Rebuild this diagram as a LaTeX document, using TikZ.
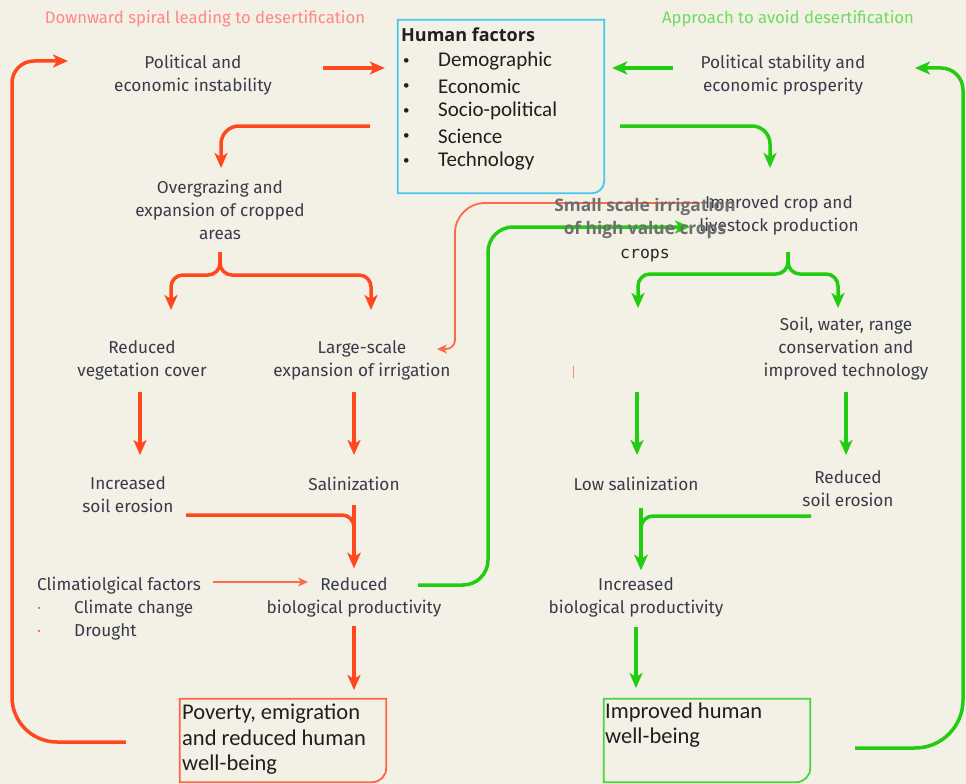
\documentclass[tikz,border=0pt]{standalone}
\usepackage{fontspec}
\setmainfont{Fira Sans}
\newfontfamily\boxfont{Carlito}
\newfontfamily\overfont{Open Sans}
\newfontfamily\cropsfont{DejaVu Sans Mono}
\usetikzlibrary{arrows.meta}

\definecolor{paper}{RGB}{243,240,229}
\definecolor{ink}{RGB}{58,59,74}
\definecolor{spiral}{RGB}{255,72,30}
\definecolor{spiralthin}{RGB}{255,105,75}
\definecolor{spiralbox}{RGB}{255,100,70}
\definecolor{avoid}{RGB}{34,204,17}
\definecolor{avoidbox}{RGB}{70,215,60}
\definecolor{hfcyan}{RGB}{70,200,240}
\definecolor{spiraltitle}{RGB}{255,135,135}
\definecolor{avoidtitle}{RGB}{110,220,95}
\definecolor{overgray}{RGB}{110,110,110}

\tikzset{
  lbl/.style={align=center, inner sep=0pt, text=ink, font=\fontsize{17.2}{23}\selectfont},
  title/.style={inner sep=0pt, font=\fontsize{16.7}{20}\selectfont},
  boxtxt/.style={align=left, inner sep=0pt, anchor=west, text=black!88, font=\boxfont\fontsize{22.5}{25.5}\selectfont},
  hftxt/.style={inner sep=0pt, anchor=west, text=black!88, font=\boxfont\fontsize{21}{25}\selectfont},
  area/.style={inner sep=0pt, minimum width=206pt},
  redarrow/.style={draw=spiral, line width=3.5pt, rounded corners=14pt, -{Stealth[length=15pt,width=13pt,inset=4pt]}},
  greenarrow/.style={draw=avoid, line width=3.5pt, rounded corners=14pt, -{Stealth[length=15pt,width=13pt,inset=4pt]}},
  thinarrow/.style={draw=spiralthin, line width=1.8pt, rounded corners=30pt, -{Stealth[length=10pt,width=9pt,inset=3pt]}}
}

\begin{document}
\begin{tikzpicture}[x=1pt, y=-1pt]
  \fill[paper] (0,0) rectangle (966,784);
  \useasboundingbox (0,0) rectangle (966,784);

  % titles
  \node[title, text=spiraltitle] (downttl) at (205,19) {Downward spiral leading to desertification};
  \node[title, text=avoidtitle] (avoidttl) at (788,19) {Approach to avoid desertification};

  % human factors box
  \node[area, minimum height=173pt] (human) at (501,106.5) {};
  \draw[hfcyan, line width=1.8pt] (human.north west) -- (human.north east) [rounded corners=12pt] -- (human.south east) [sharp corners] -- (human.south west) -- cycle;
  \node[hftxt, font=\overfont\bfseries\fontsize{18}{25}\selectfont] (hftitle) at (401,35) {Human factors};
  \node[hftxt, font=\boxfont\fontsize{13}{25}\selectfont] (hb1) at (403,62) {•};
  \node[hftxt, font=\boxfont\fontsize{13}{25}\selectfont] (hb2) at (403,87) {•};
  \node[hftxt, font=\boxfont\fontsize{13}{25}\selectfont] (hb3) at (403,112) {•};
  \node[hftxt, font=\boxfont\fontsize{13}{25}\selectfont] (hb4) at (403,137) {•};
  \node[hftxt, font=\boxfont\fontsize{13}{25}\selectfont] (hb5) at (403,162) {•};
  \node[hftxt] (hf1) at (438,61) {Demographic};
  \node[hftxt] (hf2) at (438,86) {Economic};
  \node[hftxt] (hf3) at (438,111) {Socio-political};
  \node[hftxt] (hf4) at (438,136) {Science};
  \node[hftxt] (hf5) at (438,161) {Technology};

  % left column labels
  \node[lbl] (polinst) at (193,75) {Political and\\economic instability};
  \node[lbl] (overgraz) at (220,210) {Overgrazing and\\expansion of cropped\\areas};
  \node[lbl] (redveg) at (142,360) {Reduced\\vegetation cover};
  \node[lbl] (largescale) at (362,360) {Large-scale\\expansion of irrigation};
  \node[lbl] (incerosion) at (128,495) {Increased\\soil erosion};
  \node[lbl] (salin) at (354,484) {Salinization};
  \node[lbl] (climat) at (119,586) {Climatiolgical factors};
  \node[lbl, text=spiral, font=\fontsize{9}{10}\selectfont] (cb1) at (39,609) {•};
  \node[lbl, text=spiral, font=\fontsize{9}{10}\selectfont] (cb2) at (39,632) {•};
  \node[lbl, anchor=west] (ci1) at (74,609) {Climate change};
  \node[lbl, anchor=west] (ci2) at (74,632) {Drought};
  \node[lbl] (redbio) at (354,597) {Reduced\\biological productivity};

  % right column labels
  \node[lbl] (polstab) at (783,75) {Political stability and\\economic prosperity};
  \node[lbl] (impcrop) at (779,215) {Improved crop and\\livestock production};
  \coordinate (smallgap) at (637,360);
  \node[lbl] (soilcons) at (846,349) {Soil, water, range\\conservation and\\improved technology};
  \node[lbl] (lowsalin) at (636,484) {Low salinization};
  \node[lbl] (rederosion) at (848,489) {Reduced\\soil erosion};
  \node[lbl] (incbio) at (636,597) {Increased\\biological productivity};

  % bottom boxes
  \node[area, minimum height=83pt] (poverty) at (283,740.5) {};
  \draw[spiralbox, line width=1.8pt] (poverty.north west) -- (poverty.north east) [rounded corners=14pt] -- (poverty.south east) [sharp corners] -- (poverty.south west) -- cycle;
  \node[boxtxt] (povtxt) at (182,739.5) {Poverty, emigration\\and reduced human\\well-being};
  \node[area, minimum height=83pt] (improved) at (707,740.5) {};
  \draw[avoidbox, line width=1.8pt] (improved.north west) -- (improved.north east) [rounded corners=14pt] -- (improved.south east) [sharp corners] -- (improved.south west) -- cycle;
  \node[boxtxt] (imptxt) at (605,725) {Improved human\\well-being};

  % red connectors
  \draw[redarrow, rounded corners=45pt] ([xshift=-54pt,yshift=-1.5pt]poverty.west) -- (12,742) [rounded corners=22pt] -- (12,61) -- ([xshift=-125pt,yshift=14pt]polinst.center);
  \draw[redarrow] ([xshift=130pt,yshift=7pt]polinst.center) -- ([xshift=-13pt,yshift=38.5pt]human.west);
  \draw[redarrow, rounded corners=18pt] ([xshift=-28pt,yshift=-19.5pt]human.west) -| ([xshift=1pt,yshift=42pt]overgraz.center);
  \draw[redarrow, rounded corners=12pt] ([yshift=-42pt]overgraz.center) -- (220,275) -| ([xshift=29pt,yshift=50pt]redveg.center);
  \draw[redarrow, rounded corners=12pt] ([yshift=-42pt]overgraz.center) -- (220,275) -| ([xshift=9pt,yshift=50pt]largescale.center);
  \draw[redarrow] ([xshift=-2pt,yshift=-32pt]redveg.center) -- ([xshift=12pt,yshift=40pt]incerosion.center);
  \draw[redarrow] ([xshift=-8pt,yshift=-32pt]largescale.center) -- ([yshift=29pt]salin.center);
  \draw[redarrow, rounded corners=12pt] ([xshift=58pt,yshift=-20pt]incerosion.center) -| ([yshift=29pt]redbio.center);
  \draw[redarrow] ([yshift=-21pt]salin.center) -- ([yshift=29pt]redbio.center);
  \draw[thinarrow, line width=1.5pt] ([xshift=94pt,yshift=4pt]climat.center) -- ([xshift=-46pt,yshift=15pt]redbio.center);
  \draw[redarrow] ([yshift=-29pt]redbio.center) -- ([xshift=71pt,yshift=50.5pt]poverty.center);
  \draw[thinarrow] ([xshift=-79pt,yshift=12pt]impcrop.center) -- (455,203) [rounded corners=9pt] -- (455,349) -- ([xshift=75pt,yshift=11pt]largescale.center);

  % green connectors
  \draw[greenarrow] ([xshift=-110pt,yshift=7pt]polstab.center) -- ([xshift=8pt,yshift=38.5pt]human.east);
  \draw[greenarrow, rounded corners=18pt] ([xshift=16pt,yshift=-19.5pt]human.east) -| ([xshift=-9pt,yshift=47pt]impcrop.center);
  \draw[greenarrow, rounded corners=48pt] ([xshift=148pt,yshift=-7.5pt]improved.center) -- (963,748) [rounded corners=22pt] -- (963,68) -- ([xshift=132pt,yshift=7pt]polstab.center);
  \draw[greenarrow, rounded corners=12pt] ([xshift=9pt,yshift=-37pt]impcrop.center) -- (788,274) -| ([xshift=1pt,yshift=52pt]smallgap);
  \draw[greenarrow, rounded corners=12pt] ([xshift=9pt,yshift=-37pt]impcrop.center) -- (788,274) -| ([xshift=-8pt,yshift=41pt]soilcons.center);
  \draw[greenarrow] ([yshift=-32pt]smallgap) -- ([xshift=1pt,yshift=29pt]lowsalin.center);
  \draw[greenarrow] ([yshift=-43pt]soilcons.center) -- ([xshift=-2pt,yshift=34pt]rederosion.center);
  \draw[greenarrow, rounded corners=12pt] ([xshift=-37pt,yshift=-27pt]rederosion.center) -| ([xshift=5pt,yshift=27pt]incbio.center);
  \draw[greenarrow] ([xshift=5pt,yshift=-24pt]lowsalin.center) -- ([xshift=5pt,yshift=27pt]incbio.center);
  \draw[greenarrow] ([yshift=-30pt]incbio.center) -- ([xshift=-71pt,yshift=52.5pt]improved.center);
  \draw[greenarrow, rounded corners=25pt] ([xshift=64pt,yshift=12pt]redbio.center) -- (488,585) -- (488,227) -- ([xshift=-89pt,yshift=-12pt]impcrop.center);

  % overlapping small scale text
  \node[align=center, inner sep=0pt, text=overgray, font=\overfont\bfseries\fontsize{17.3}{23}\selectfont] (smallirr) at (645,218.5) {Small scale irrigation\\of high value crops};
  \node[inner sep=0pt, text=black!85, font=\cropsfont\fontsize{16.5}{20}\selectfont] (cropsword) at (645,256) {crops};
  \draw[spiralthin!80, line width=1pt] (573,366) -- (573,378);
\end{tikzpicture}
\end{document}
